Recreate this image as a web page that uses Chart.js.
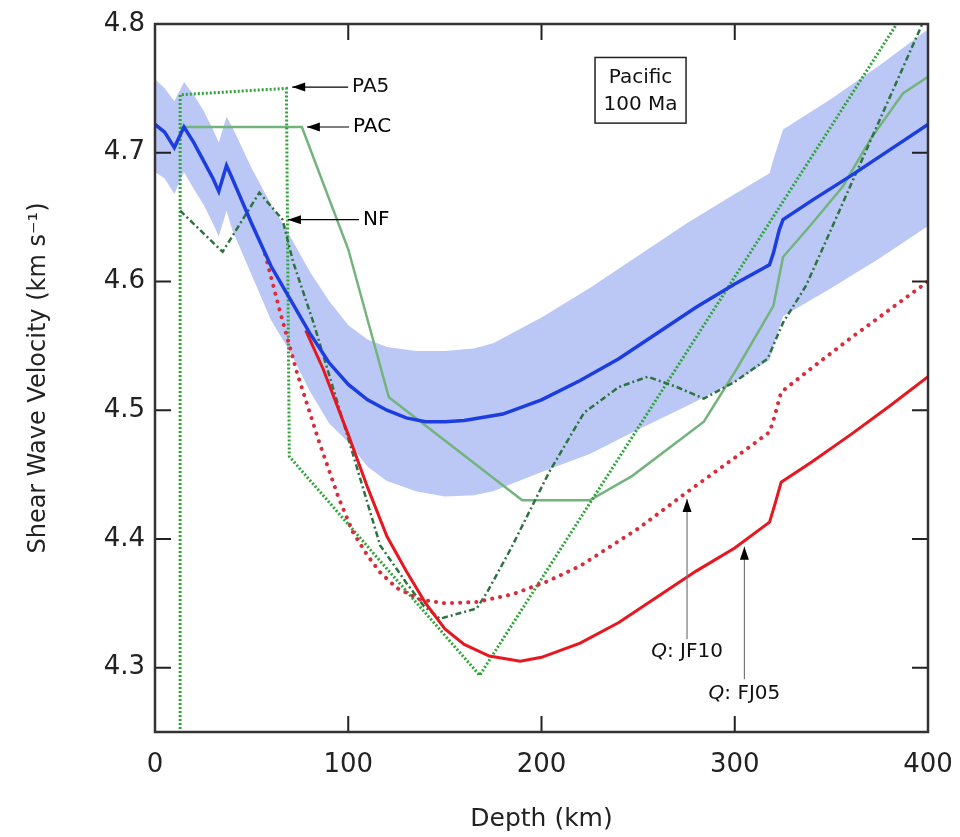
<!DOCTYPE html>
<html>
<head>
<meta charset="utf-8">
<script src="https://cdn.jsdelivr.net/npm/chart.js@4.4.1/dist/chart.umd.min.js"></script>
<style>
  html, body { margin: 0; padding: 0; background: #fff; }
  #wrap { width: 960px; height: 837px; }
</style>
</head>
<body>
<div id="wrap"><canvas id="vsChart" width="960" height="837"></canvas></div>
<script>
// axis ticks
const depthTicks = [0, 100, 200, 300, 400];
const velocityTicks = [4.3, 4.4, 4.5, 4.6, 4.7, 4.8];

// Pacific 100 Ma mean profile (blue)
const blueDepth = [0, 5, 10, 15, 20, 25, 30, 33, 37, 40, 50, 60, 70, 80, 90, 100, 110, 120, 130, 140, 150, 160, 180, 200, 220, 240, 260, 280, 300, 318, 320, 323, 325, 340, 360, 380, 400];
const blueVs = [4.722, 4.716, 4.704, 4.720, 4.708, 4.694, 4.680, 4.670, 4.690, 4.680, 4.645, 4.612, 4.586, 4.560, 4.537, 4.520, 4.508, 4.500, 4.494, 4.491, 4.491, 4.492, 4.497, 4.508, 4.523, 4.540, 4.560, 4.580, 4.598, 4.613, 4.622, 4.640, 4.648, 4.663, 4.682, 4.702, 4.722];

// uncertainty band round the mean
const bandDepth = [0, 5, 10, 15, 20, 25, 30, 33, 37, 40, 50, 60, 70, 80, 90, 100, 110, 120, 135, 150, 165, 175, 200, 225, 250, 275, 300, 318, 320, 325, 350, 375, 400];
const bandUpper = [4.757, 4.750, 4.740, 4.755, 4.745, 4.733, 4.718, 4.708, 4.728, 4.720, 4.688, 4.660, 4.635, 4.608, 4.585, 4.566, 4.555, 4.549, 4.546, 4.546, 4.548, 4.552, 4.572, 4.595, 4.620, 4.645, 4.668, 4.684, 4.695, 4.718, 4.742, 4.768, 4.796];
const bandLower = [4.685, 4.680, 4.668, 4.685, 4.672, 4.660, 4.645, 4.635, 4.655, 4.640, 4.605, 4.570, 4.545, 4.515, 4.490, 4.475, 4.456, 4.445, 4.437, 4.433, 4.434, 4.437, 4.452, 4.466, 4.485, 4.503, 4.522, 4.539, 4.550, 4.573, 4.595, 4.618, 4.643];

// Q model FJ05 (red solid)
const fj05Depth = [78, 87, 100, 110, 120, 130, 140, 150, 160, 173, 189, 200, 220, 240, 260, 280, 300, 318, 321, 324, 340, 360, 380, 400];
const fj05Vs = [4.562, 4.532, 4.481, 4.440, 4.402, 4.375, 4.350, 4.330, 4.318, 4.309, 4.305, 4.308, 4.319, 4.335, 4.355, 4.375, 4.393, 4.413, 4.428, 4.444, 4.460, 4.481, 4.503, 4.526];

// Q model JF10 (red dotted)
const jf10Depth = [57, 65, 73.5, 85, 95, 102.5, 110, 116.5, 125, 137, 150, 166.5, 185, 203, 220, 250, 275, 300, 318, 320, 322, 324, 340, 360, 380, 400];
const jf10Vs = [4.621, 4.575, 4.529, 4.475, 4.432, 4.405, 4.387, 4.374, 4.362, 4.353, 4.350, 4.351, 4.357, 4.367, 4.379, 4.408, 4.436, 4.463, 4.483, 4.492, 4.503, 4.514, 4.533, 4.556, 4.578, 4.600];

// seismic reference models (green)
const pa5Depth = [13, 13, 68, 69.5, 168, 400];
const pa5Vs = [4.1, 4.745, 4.75, 4.464, 4.294, 4.838];

const pacDepth = [13, 76, 100, 121, 190, 225, 247, 284, 301, 320, 325, 340, 356, 370, 387, 400];
const pacVs = [4.72, 4.72, 4.625, 4.51, 4.43, 4.43, 4.449, 4.491, 4.532, 4.581, 4.619, 4.645, 4.674, 4.71, 4.746, 4.759];

const nfDepth = [13, 35, 54, 66, 71.5, 82, 100, 116.5, 130, 139, 147.5, 157, 166.5, 172, 184, 204, 222, 240, 255, 270, 284, 300, 317, 325, 337, 400];
const nfVs = [4.655, 4.623, 4.669, 4.648, 4.615, 4.568, 4.478, 4.395, 4.366, 4.348, 4.338, 4.342, 4.346, 4.359, 4.392, 4.452, 4.498, 4.518, 4.526, 4.518, 4.509, 4.522, 4.540, 4.568, 4.597, 4.810];

function pts(xs, ys) {
    return xs.map((x, i) => ({ x: x, y: ys[i] }));
}

const labelFont = '20px "DejaVu Sans"';

// frame, inside ticks on all four sides, and the text labels
const framePlugin = {
    id: 'frame',
    afterDraw(chart) {
        const ctx = chart.ctx;
        const a = chart.chartArea;
        const xs = chart.scales.x, ys = chart.scales.y;
        const px = d => xs.getPixelForValue(d);
        const py = v => ys.getPixelForValue(v);
        ctx.save();

        // ticks
        ctx.strokeStyle = '#222';
        ctx.lineWidth = 2;
        const tl = 16;
        ctx.beginPath();
        depthTicks.forEach(d => {
            const x = px(d);
            ctx.moveTo(x, a.bottom); ctx.lineTo(x, a.bottom - tl);
            ctx.moveTo(x, a.top); ctx.lineTo(x, a.top + tl);
        });
        velocityTicks.forEach(v => {
            const y = py(v);
            ctx.moveTo(a.left, y); ctx.lineTo(a.left + tl, y);
            ctx.moveTo(a.right, y); ctx.lineTo(a.right - tl, y);
        });
        ctx.stroke();

        // frame
        ctx.strokeStyle = '#333';
        ctx.lineWidth = 2.5;
        ctx.strokeRect(a.left, a.top, a.right - a.left, a.bottom - a.top);

        // arrow helper
        function arrow(x1, y1, x2, y2, color) {
            ctx.strokeStyle = color;
            ctx.lineWidth = 1.2;
            ctx.beginPath();
            ctx.moveTo(x1, y1); ctx.lineTo(x2, y2);
            ctx.stroke();
            const ang = Math.atan2(y2 - y1, x2 - x1);
            const L = 13, W = 4.5;
            ctx.fillStyle = '#000';
            ctx.beginPath();
            ctx.moveTo(x2, y2);
            ctx.lineTo(x2 - L * Math.cos(ang) + W * Math.sin(ang), y2 - L * Math.sin(ang) - W * Math.cos(ang));
            ctx.lineTo(x2 - L * Math.cos(ang) - W * Math.sin(ang), y2 - L * Math.sin(ang) + W * Math.cos(ang));
            ctx.closePath();
            ctx.fill();
        }

        // model labels
        ctx.font = labelFont;
        ctx.fillStyle = '#111';
        ctx.textBaseline = 'middle';
        ctx.textAlign = 'left';
        [['PA5', 102, 4.751, 71], ['PAC', 102.5, 4.720, 78.6], ['NF', 107.6, 4.648, 68.8]].forEach(l => {
            ctx.fillText(l[0], px(l[1]), py(l[2]));
            arrow(px(l[1]) - 4, py(l[2]), px(l[3]), py(l[2]), '#000');
        });

        // Q labels with vertical arrows
        function qLabel(name, d, vText, vTop, vBottom) {
            const x = px(d);
            arrow(x, py(vBottom), x, py(vTop), '#777');
            ctx.font = 'italic ' + labelFont;
            const wq = ctx.measureText('Q').width;
            ctx.font = labelFont;
            const wr = ctx.measureText(': ' + name).width;
            const x0 = x - (wq + wr) / 2;
            ctx.fillStyle = '#111';
            ctx.textAlign = 'left';
            ctx.font = 'italic ' + labelFont;
            ctx.fillText('Q', x0, py(vText));
            ctx.font = labelFont;
            ctx.fillText(': ' + name, x0 + wq, py(vText));
        }
        qLabel('JF10', 275.3, 4.312, 4.431, 4.322);
        qLabel('FJ05', 305, 4.280, 4.394, 4.291);

        // Pacific box
        const bx0 = px(227.7), bx1 = px(274.8), by0 = py(4.774), by1 = py(4.723);
        ctx.fillStyle = '#fff';
        ctx.fillRect(bx0, by0, bx1 - bx0, by1 - by0);
        ctx.strokeStyle = '#222';
        ctx.lineWidth = 1.5;
        ctx.strokeRect(bx0, by0, bx1 - bx0, by1 - by0);
        ctx.fillStyle = '#111';
        ctx.textAlign = 'center';
        ctx.font = labelFont;
        ctx.fillText('Pacific', (bx0 + bx1) / 2, by0 + 20);
        ctx.fillText('100 Ma', (bx0 + bx1) / 2, by0 + 47);

        ctx.restore();
    }
};

const ctx = document.getElementById('vsChart').getContext('2d');
new Chart(ctx, {
    type: 'line',
    data: {
        datasets: [
            { label: 'mean', data: pts(blueDepth, blueVs), borderColor: 'rgb(28,62,225)', borderWidth: 3.5 },
            { label: 'FJ05', data: pts(fj05Depth, fj05Vs), borderColor: 'rgb(232,22,30)', borderWidth: 3 },
            { label: 'JF10', data: pts(jf10Depth, jf10Vs), borderColor: 'rgb(218,45,60)', borderWidth: 4, borderDash: [0.1, 8], borderCapStyle: 'round' },
            { label: 'NF', data: pts(nfDepth, nfVs), borderColor: 'rgb(45,115,65)', borderWidth: 2.5, borderDash: [6, 3, 2, 3] },
            { label: 'PA5', data: pts(pa5Depth, pa5Vs), borderColor: 'rgb(45,165,55)', borderWidth: 3, borderDash: [2, 2] },
            { label: 'PAC', data: pts(pacDepth, pacVs), borderColor: 'rgb(115,180,125)', borderWidth: 2.5 },
            { label: 'upper', data: pts(bandDepth, bandUpper), borderWidth: 0, borderColor: 'rgba(0,0,0,0)', backgroundColor: 'rgb(187,200,245)', fill: '+1' },
            { label: 'lower', data: pts(bandDepth, bandLower), borderWidth: 0, borderColor: 'rgba(0,0,0,0)', fill: false }
        ]
    },
    options: {
        responsive: false,
        animation: false,
        layout: { padding: { top: 24, right: 32, bottom: 0, left: 0 } },
        elements: { point: { radius: 0 }, line: { tension: 0 } },
        plugins: { legend: { display: false }, tooltip: { enabled: false } },
        scales: {
            x: {
                type: 'linear',
                min: 0,
                max: 400,
                afterBuildTicks: s => { s.ticks = depthTicks.map(v => ({ value: v })); },
                afterFit: s => { s.height = 105; s.paddingLeft = 0; s.paddingRight = 0; },
                grid: { display: false, drawTicks: false },
                border: { display: false },
                ticks: { padding: 18, color: '#222', maxRotation: 0, font: { family: 'DejaVu Sans', size: 26 }, callback: v => String(v) },
                title: { display: true, text: 'Depth (km)', color: '#222', font: { family: 'DejaVu Sans', size: 25 }, padding: { top: 0, bottom: 3 } }
            },
            y: {
                type: 'linear',
                min: 4.25,
                max: 4.8,
                afterBuildTicks: s => { s.ticks = velocityTicks.map(v => ({ value: v })); },
                afterFit: s => { s.width = 155; s.paddingTop = 0; s.paddingBottom = 0; },
                grid: { display: false, drawTicks: false },
                border: { display: false },
                ticks: { padding: 10, color: '#222', font: { family: 'DejaVu Sans', size: 26 }, callback: v => v.toFixed(1) },
                title: { display: true, text: 'Shear Wave Velocity (km s\u207B\u00B9)', color: '#222', font: { family: 'DejaVu Sans', size: 24 }, padding: { top: 24, bottom: 0 } }
            }
        }
    },
    plugins: [framePlugin]
});
</script>
</body>
</html>
